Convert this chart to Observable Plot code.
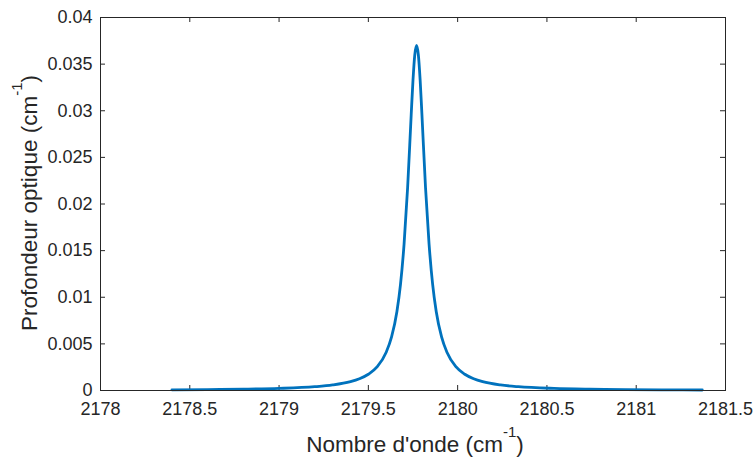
<!DOCTYPE html>
<html>
<head>
<meta charset="utf-8">
<script src="https://cdn.jsdelivr.net/npm/d3@7"></script>
<script src="https://cdn.jsdelivr.net/npm/@observablehq/plot@0.6"></script>
<style>
  html, body { margin: 0; padding: 0; background: #fff; }
  #chart { width: 756px; height: 459px; }
</style>
</head>
<body>
<div id="chart"></div>
<script>
// Wavenumber (cm^-1)
const wavenumber = [
  2178.40, 2178.60, 2178.80, 2179.00, 2179.20, 2179.30, 2179.40, 2179.45,
  2179.50, 2179.55, 2179.60, 2179.63, 2179.66, 2179.68, 2179.70, 2179.72,
  2179.74, 2179.75, 2179.76, 2179.77, 2179.78, 2179.79, 2179.80, 2179.82,
  2179.84, 2179.86, 2179.88, 2179.91, 2179.94, 2179.99, 2180.04, 2180.09,
  2180.14, 2180.24, 2180.34, 2180.54, 2180.74, 2180.94, 2181.14, 2181.37
];
// Optical depth (cm^-1)
const opticalDepth = [
  0.000071, 0.000097, 0.000141, 0.000223, 0.000405, 0.000593, 0.000948, 0.00126,
  0.00174, 0.00256, 0.0041, 0.00574, 0.00848, 0.01138, 0.0157, 0.0218,
  0.0296, 0.0333, 0.0360, 0.0370, 0.0360, 0.0333, 0.0296, 0.0218,
  0.0157, 0.01138, 0.00848, 0.00574, 0.0041, 0.00256, 0.00174, 0.00126,
  0.000948, 0.000593, 0.000405, 0.000223, 0.000141, 0.000097, 0.000071, 0.000052
];
const xTicks = [2178, 2178.5, 2179, 2179.5, 2180, 2180.5, 2181, 2181.5];
const xTickLabels = ["2178", "2178.5", "2179", "2179.5", "2180", "2180.5", "2181", "2181.5"];
const yTicks = [0, 0.005, 0.01, 0.015, 0.02, 0.025, 0.03, 0.035, 0.04];
const yTickLabels = ["0", "0.005", "0.01", "0.015", "0.02", "0.025", "0.03", "0.035", "0.04"];
const xLabel = ["Nombre d'onde (cm", "-1", ")"];
const yLabel = ["Profondeur optique (cm", "-1", ")"];

const data = wavenumber.map((x, i) => ({x, y: opticalDepth[i]}));

const W = 756, H = 459;
const mL = 100, mR = 31, mT = 17, mB = 69;
const innerH = H - mT - mB;
const tickLen = 5;
const axisColor = "#262626";
const font = "'Liberation Sans', Arial, sans-serif";

const svg = Plot.plot({
  width: W,
  height: H,
  marginLeft: mL,
  marginRight: mR,
  marginTop: mT,
  marginBottom: mB,
  style: {fontFamily: font, fontSize: "18px", color: axisColor, background: "#fff", overflow: "visible"},
  x: {domain: [2178, 2181.5]},
  y: {domain: [0, 0.04]},
  marks: [
    Plot.axisX({ticks: xTicks, tickSize: 0, tickPadding: 11.5, tickFormat: (d) => xTickLabels[xTicks.indexOf(d)], label: null, fontSize: 18}),
    Plot.axisY({ticks: yTicks, tickSize: 0, tickPadding: 8, tickFormat: (d) => yTickLabels[yTicks.indexOf(d)], label: null, fontSize: 18}),
    // inward ticks on all four sides (box on)
    Plot.tickX(xTicks, {x: (d) => d, insetTop: innerH - tickLen, stroke: axisColor, strokeWidth: 1}),
    Plot.tickX(xTicks, {x: (d) => d, insetBottom: innerH - tickLen, stroke: axisColor, strokeWidth: 1}),
    Plot.tickY(yTicks, {y: (d) => d, insetRight: (W - mL - mR) - tickLen, stroke: axisColor, strokeWidth: 1}),
    Plot.tickY(yTicks, {y: (d) => d, insetLeft: (W - mL - mR) - tickLen, stroke: axisColor, strokeWidth: 1}),
    Plot.line(data, {x: "x", y: "y", stroke: "#0072BD", strokeWidth: 2.8, curve: "monotone-x"}),
    Plot.frame({stroke: axisColor, strokeWidth: 1})
  ]
});

document.getElementById("chart").appendChild(svg);

const s = d3.select(svg);
function addLabel(parts, x, y, rotate) {
  const t = s.append("text")
    .attr("transform", `translate(${x},${y})` + (rotate ? " rotate(-90)" : ""))
    .attr("text-anchor", "middle")
    .attr("fill", axisColor)
    .style("font-family", font)
    .style("font-size", "22.5px");
  t.append("tspan").text(parts[0]);
  t.append("tspan").attr("dy", -15).style("font-size", "15px").text(parts[1]);
  t.append("tspan").attr("dy", 15).text(parts[2]);
}
addLabel(xLabel, 415, 452, false);
addLabel(yLabel, 37, 203, true);
</script>
</body>
</html>
